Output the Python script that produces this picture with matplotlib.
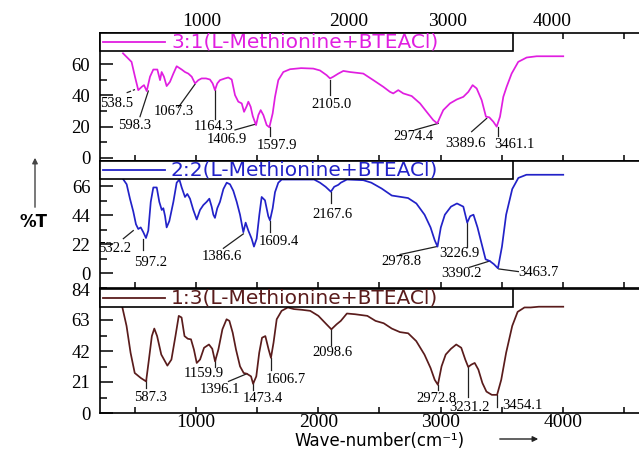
import matplotlib
matplotlib.use("Agg")
import matplotlib.pyplot as plt
from matplotlib.ticker import MultipleLocator, FixedLocator
from matplotlib.patches import Rectangle
from matplotlib.lines import Line2D

# ---- spectra: wavenumber (cm-1) and %T ----
wn1 = [403, 473, 501, 528, 556, 575, 597, 624, 651, 684, 706, 719, 738, 760, 787,
       815, 842, 883, 910, 937, 965, 992, 1019, 1046, 1082, 1114, 1136, 1155, 1174, 1196,
       1237, 1264, 1292, 1319, 1346, 1374, 1393, 1415, 1428, 1447, 1464, 1491, 1510, 1529, 1551,
       1578, 1600, 1627, 1646, 1673, 1714, 1769, 1860, 1959, 2014, 2068, 2096, 2123, 2164, 2205,
       2259, 2368, 2450, 2532, 2586, 2613, 2654, 2695, 2764, 2832, 2886, 2940, 2973, 2995, 3022,
       3077, 3132, 3186, 3227, 3262, 3295, 3336, 3371, 3398, 3431, 3459, 3486, 3513, 3540, 3581,
       3635, 3704, 3786, 4003]
t1 = [67, 61.5, 52, 43.4, 45.5, 46.6, 42.8, 52, 56.6, 56.6, 49.8, 55, 52, 46, 48.7,
      54, 58.7, 56.6, 55, 54, 52, 47.7, 49.8, 50.9, 50.9, 50.2, 47.7, 43.4, 47.7, 49.8,
      50.9, 51.5, 50.2, 40.2, 36, 34.9, 29.5, 33.2, 36, 32.7, 26.8, 21, 27.4, 30.6, 27.4,
      21, 19.6, 28.5, 39, 49.8, 55, 56.8, 57.5, 57.2, 56, 53, 50.9, 52, 54, 55.7,
      55, 54, 49.8, 45.5, 42.3, 41.3, 43.4, 41.3, 39.6, 34.9, 29.5, 24.2, 22.1, 26, 30.6,
      34.9, 37.4, 39.1, 42.3, 46.6, 44.5, 37, 26.4, 26, 23.2, 20, 26.4, 39.1, 45.5, 54,
      61.5, 64.3, 65.1, 65.1]

wn2 = [406, 433, 460, 487, 509, 528, 548, 569, 591, 610, 630, 651, 679, 700, 720,
       733, 747, 760, 782, 815, 842, 864, 883, 910, 929, 951, 978, 1006, 1033, 1060,
       1087, 1109, 1128, 1142, 1155, 1174, 1196, 1224, 1251, 1278, 1305, 1333, 1360, 1387, 1406,
       1428, 1455, 1474, 1496, 1518, 1537, 1564, 1591, 1605, 1627, 1646, 1673, 1701, 1966, 2014,
       2060, 2103, 2130, 2164, 2184, 2234, 2368, 2434, 2518, 2601, 2734, 2802, 2869, 2918, 2952,
       2975, 3002, 3035, 3085, 3134, 3186, 3218, 3242, 3269, 3302, 3335, 3368, 3402, 3436, 3469,
       3502, 3536, 3586, 3636, 3702, 4003]
t2 = [71, 67.4, 56.5, 46.9, 37.2, 33.6, 34.8, 31.2, 26.8, 32.4, 54.1, 65, 65, 54.1, 48,
      49.3, 43.3, 34.8, 39.6, 54.1, 68.6, 71, 65, 57.8, 60.1, 56.5, 48, 40.8, 48, 51.7,
      54.1, 56.5, 50.5, 44.4, 42, 49.3, 54.1, 63.8, 68.6, 67.4, 62.5, 54.1, 44.4, 31.2, 38.4,
      32.4, 26.3, 20.3, 26.3, 44.4, 57.8, 55.3, 43.3, 40.1, 49.3, 61.4, 68.6, 71, 71, 68.6,
      65.5, 61.8, 65.5, 67, 68.6, 71, 70.5, 68.6, 64.2, 58.9, 57, 52.9, 44.4, 34.8, 25.1,
      20.3, 34.8, 44.4, 50.5, 52.9, 50.5, 38.4, 43.3, 44.4, 34.8, 22.7, 10.7, 9.4, 7, 3.9,
      20.3, 44.4, 63.8, 72.2, 74.6, 74.6]

wn3 = [398, 432, 465, 499, 549, 592, 615, 639, 659, 682, 716, 766, 799, 832, 859,
       882, 906, 933, 959, 983, 1006, 1033, 1066, 1106, 1133, 1156, 1183, 1216, 1250, 1273,
       1300, 1327, 1360, 1390, 1416, 1450, 1467, 1493, 1517, 1540, 1567, 1594, 1613, 1634, 1660,
       1700, 1751, 1800, 1867, 1934, 2001, 2067, 2107, 2150, 2184, 2234, 2301, 2401, 2468, 2535,
       2601, 2668, 2735, 2801, 2868, 2918, 2952, 2978, 3008, 3042, 3085, 3128, 3169, 3202, 3226,
       3252, 3279, 3309, 3342, 3375, 3419, 3462, 3496, 3536, 3586, 3630, 3686, 3736, 3803, 4003]
t3 = [71.5, 59, 40.8, 27.1, 23.7, 21.4, 36.2, 52.1, 57.2, 52.1, 39.6, 32.1, 36.2, 52.1, 65.8,
      64.7, 52.1, 50.3, 49.9, 43, 33.9, 36.2, 44.2, 46.4, 43.5, 35, 43, 56.7, 63.5, 62.4,
      54.4, 43, 31.6, 27.1, 26.6, 24.8, 19.8, 24.8, 40.8, 51, 52.1, 43, 37.4, 47.6, 63.5,
      69.2, 71.5, 70.4, 69.9, 69.2, 65.8, 60.1, 56.7, 60.1, 62.4, 67.4, 66.9, 65.8, 62.4, 60.8,
      57.2, 54.8, 54, 48.7, 39.6, 30.5, 22.5, 19.1, 31.6, 39.6, 43.5, 46.4, 44.2, 36.2, 31.2,
      32.8, 33.9, 29.4, 20.3, 14.5, 12.3, 12.3, 22.5, 40.8, 59, 68.5, 71.5, 71.5, 72, 72]

names = ["3:1(L-Methionine+BTEACl)", "2:2(L-Methionine+BTEACl)", "1:3(L-Methionine+BTEACl)"]
colors = ["#e01ee0", "#2222c8", "#5a1c1c"]

# peak labels
peaks1 = ["538.5", "598.3", "1067.3", "1164.3", "1406.9", "1597.9", "2105.0", "2974.4", "3389.6", "3461.1"]
peaks2 = ["532.2", "597.2", "1386.6", "1609.4", "2167.6", "2978.8", "3226.9", "3390.2", "3463.7"]
peaks3 = ["587.3", "1159.9", "1396.1", "1473.4", "1606.7", "2098.6", "2972.8", "3231.2", "3454.1"]

# label positions (x, y) and leader lines (x0, y0, x1, y1)
pos1 = [(351, 35), (501, 21), (815, 29.5), (1147, 20), (1251, 11.5), (1659, 7.7),
        (2104, 34.5), (2777, 13.6), (3200, 9.4), (3600, 8.3)]
lead1 = [(433, 41.7, 501, 43.8), (542, 26.4, 610, 42.8), (855, 32.3, 992, 47.2),
         (1155, 25, 1155, 43.4), (1319, 17.9, 1482, 21.5), (1605, 14, 1605, 20),
         (2096, 40.2, 2096, 49.8), (2791, 17.9, 2981, 22.1), (3254, 16.8, 3377, 25.3),
         (3472, 14, 3472, 20)]
pos2 = [(338, 19), (630, 8.2), (1210, 12.5), (1676, 23.9), (2118, 44.4), (2676, 9.4),
        (3152, 15), (3168, -0.2), (3803, 0.9)]
lead2 = [(406, 26.3, 487, 32.4), (569, 17.9, 569, 26.3), (1224, 19, 1387, 29.9),
         (1605, 31.2, 1605, 39.6), (2107, 52.9, 2107, 61.8), (2668, 14.3, 2968, 20.3),
         (3218, 20.3, 3218, 38.4), (3235, 4.6, 3402, 9.4), (3636, 1.4, 3476, 3.4)]
pos3 = [(632, 10.7), (1066, 26.6), (1200, 15.7), (1550, 10), (1733, 23), (2118, 40.8),
        (2968, 10), (3235, 3.9), (3669, 4.8)]
lead3 = [(592, 16.9, 592, 22.5), (1156, 31.2, 1156, 36.7), (1266, 21.4, 1416, 26.6),
         (1467, 15.7, 1467, 21.4), (1613, 29.4, 1613, 37.4), (2107, 46.4, 2107, 56.7),
         (2978, 15.7, 2978, 19.1), (3226, 11.1, 3226, 31.2), (3462, 4.3, 3462, 12.3)]

yticks = [[0, 20, 40, 60], [0, 22, 44, 66], [0, 21, 42, 63, 84]]
ylims = [(-2, 80), (-11, 85), (0, 84)]
bottom_labels = ["1000", "2000", "3000", "4000"]
top_labels = ["1000", "2000", "3000", "4000"]
top_pos = [1049, 2251, 3060, 3911]

W, H = 639, 450
fig = plt.figure(figsize=(W / 100, H / 100), dpi=100)
ax_left, ax_right = 100, 660.7
panels_px = [(33, 161), (161, 288), (289, 413)]   # top, bottom in pixels

serif = "Liberation Serif"
axes = []
for top, bot in panels_px:
    ax = fig.add_axes([ax_left / W, 1 - bot / H, (ax_right - ax_left) / W, (bot - top) / H])
    axes.append(ax)

data = [(wn1, t1, peaks1, pos1, lead1), (wn2, t2, peaks2, pos2, lead2), (wn3, t3, peaks3, pos3, lead3)]
for i, ax in enumerate(axes):
    wn, t, peaks, pos, lead = data[i]
    ax.plot(wn, t, color=colors[i], lw=1.25, zorder=3)
    for lab, (tx, ty), (x0, y0, x1, y1) in zip(peaks, pos, lead):
        ls = "--" if lab == "538.5" else "-"
        ax.plot([x0, x1], [y0, y1], color="#202020", lw=0.9, ls=ls, zorder=2)
        ax.text(tx, ty, lab, ha="center", va="center", fontsize=10.5, family=serif)

    ax.set_xlim(215, 4800)
    ax.set_ylim(*ylims[i])
    ax.xaxis.set_major_locator(MultipleLocator(1000))
    ax.xaxis.set_minor_locator(MultipleLocator(500))
    ax.yaxis.set_major_locator(FixedLocator(yticks[i]))
    step = yticks[i][1] - yticks[i][0]
    ax.yaxis.set_minor_locator(MultipleLocator(step / 2))
    ax.tick_params(axis="x", which="both", direction="in", length=4, width=1.1,
                   labelsize=14, pad=1, top=(i == 0))
    ax.tick_params(axis="y", which="major", direction="in", length=9, width=1.1,
                   labelsize=13.5, pad=7)
    ax.tick_params(axis="y", which="minor", direction="in", length=5, width=1.1)
    for lbl in ax.get_yticklabels():
        lbl.set_family(serif)
    if i < 2:
        ax.tick_params(axis="x", labelbottom=False)
    else:
        ax.set_xticks([1000, 2000, 3000, 4000])
        ax.set_xticklabels(bottom_labels, family=serif)
    for s in ax.spines.values():
        s.set_linewidth(1.2)

    # legend box in the upper left corner
    h_px = panels_px[i][1] - panels_px[i][0]
    aw = ax_right - ax_left
    bh = 18 / h_px
    ax.add_patch(Rectangle((0, 1 - bh), 413 / aw, bh, transform=ax.transAxes,
                           facecolor="white", edgecolor="black", lw=1.2, zorder=5, clip_on=False))
    ax.add_line(Line2D([3 / aw, 65 / aw], [1 - bh / 2] * 2, transform=ax.transAxes,
                       color=colors[i], lw=1.3, zorder=6))
    ax.text(71 / aw, 1 - bh / 2, names[i], transform=ax.transAxes, ha="left", va="center",
            fontsize=14.5, family="DejaVu Sans", color=colors[i], zorder=6)

# top scale labels
sec = axes[0].secondary_xaxis("top")
sec.set_xticks(top_pos)
sec.set_xticklabels(top_labels, family=serif, fontsize=14)
sec.tick_params(length=0, pad=2)
sec.spines["top"].set_visible(False)

# axis titles with arrows
fig.text(33 / W, 1 - 222 / H, "%T", ha="center", va="center", fontsize=12,
         family="DejaVu Sans", weight="bold")
axes[0].annotate("", xy=(35 / W, 1 - 155 / H), xytext=(35 / W, 1 - 210 / H),
                 xycoords="figure fraction", textcoords="figure fraction",
                 arrowprops=dict(arrowstyle="-|>", color="#444444", lw=1, mutation_scale=8),
                 annotation_clip=False)
fig.text(380 / W, 1 - 441 / H, "Wave-number(cm\u207b\u00b9)", ha="center", va="center",
         fontsize=12, family="DejaVu Sans")
axes[2].annotate("", xy=(541 / W, 1 - 439 / H), xytext=(497 / W, 1 - 439 / H),
                 xycoords="figure fraction", textcoords="figure fraction",
                 arrowprops=dict(arrowstyle="-|>", color="#222222", lw=1, mutation_scale=8),
                 annotation_clip=False)

fig.savefig("out.png", dpi=100)
